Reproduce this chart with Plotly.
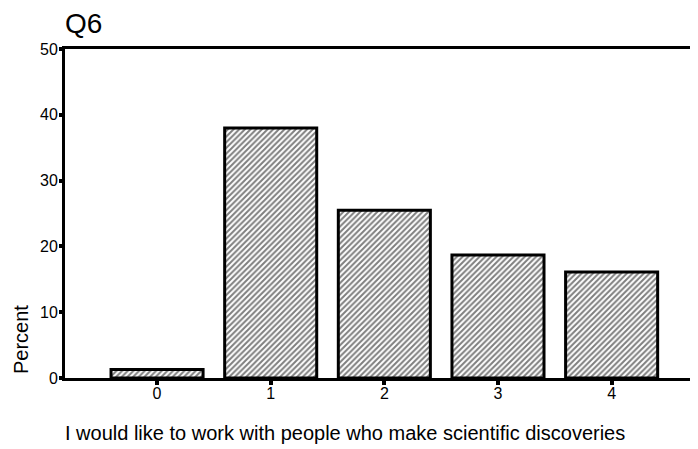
import plotly.graph_objects as go

categories = ["0", "1", "2", "3", "4"]
percents = [1.3, 38.0, 25.5, 18.7, 16.1]
y_ticks = [0, 10, 20, 30, 40, 50]

fig = go.Figure()
fig.add_trace(go.Bar(
    x=[0, 1, 2, 3, 4],
    y=percents,
    width=0.81,
    marker=dict(
        color="white",
        line=dict(color="black", width=3),
        pattern=dict(shape="/", fgcolor="black", bgcolor="white", size=4, solidity=0.5),
    ),
    showlegend=False,
))

font_family = "Liberation Sans, Arial, sans-serif"
fig.update_layout(
    width=690, height=441,
    margin=dict(l=57, r=0, t=41, b=71, autoexpand=False),
    paper_bgcolor="white", plot_bgcolor="white",
    font=dict(family=font_family, color="black", size=16),
    xaxis=dict(
        range=[-0.81, 4.76],
        tickvals=[0, 1, 2, 3, 4], ticktext=categories,
        showline=True, linecolor="black", linewidth=3, mirror=True,
        ticks="outside", ticklen=4, tickwidth=4, tickcolor="black",
        showgrid=False, zeroline=False,
        tickfont=dict(size=16),
        ticklabelstandoff=-5,
    ),
    yaxis=dict(
        range=[0, 50],
        tickvals=y_ticks,
        showline=True, linecolor="black", linewidth=3,
        ticks="outside", ticklen=3, tickwidth=4, tickcolor="black",
        showgrid=False, zeroline=False,
        tickfont=dict(size=16),
        ticklabelstandoff=-2,
    ),
)
fig.add_annotation(text="Q6", xref="paper", yref="paper", x=-0.003, y=(378 - 23) / 329,
                   xanchor="left", yanchor="middle", showarrow=False,
                   font=dict(size=28, family=font_family))
fig.add_annotation(text="Percent", xref="paper", yref="paper", x=(21 - 65) / 633, y=(378 - 340) / 329,
                   textangle=-90, xanchor="center", yanchor="middle", showarrow=False,
                   font=dict(size=20, family=font_family))
fig.add_annotation(text="I would like to work with people who make scientific discoveries",
                   xref="paper", yref="paper", x=-0.003, y=(378 - 433) / 329,
                   xanchor="left", yanchor="middle", showarrow=False,
                   font=dict(size=20, family=font_family))

fig.write_html("out.html")
